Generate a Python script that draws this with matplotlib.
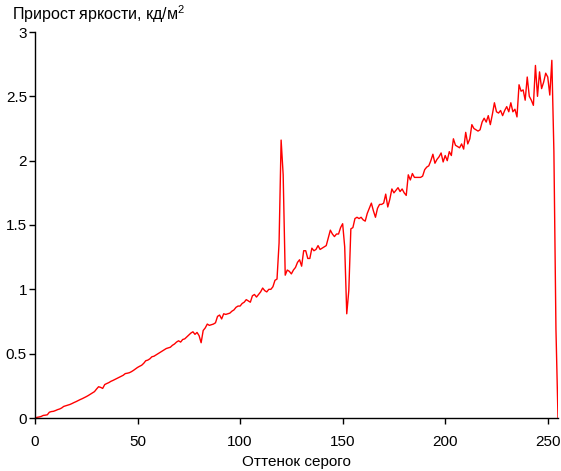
import matplotlib
matplotlib.use("Agg")

import matplotlib.pyplot as plt
import numpy as np

# brightness increment per gray level
gray_levels = np.arange(256)
increments = [
    0.000, 0.005, 0.008, 0.012, 0.020, 0.022, 0.025, 0.045, 0.050, 0.052,
    0.058, 0.065, 0.070, 0.078, 0.090, 0.095, 0.100, 0.105, 0.112, 0.120,
    0.127, 0.135, 0.143, 0.150, 0.158, 0.166, 0.175, 0.185, 0.195, 0.205,
    0.225, 0.243, 0.238, 0.230, 0.260, 0.268, 0.275, 0.285, 0.292, 0.300,
    0.308, 0.316, 0.324, 0.332, 0.345, 0.348, 0.352, 0.360, 0.370, 0.382,
    0.393, 0.402, 0.410, 0.425, 0.445, 0.450, 0.460, 0.476, 0.480, 0.490,
    0.500, 0.510, 0.520, 0.530, 0.540, 0.545, 0.550, 0.565, 0.575, 0.590,
    0.600, 0.590, 0.610, 0.615, 0.630, 0.645, 0.660, 0.670, 0.650, 0.665,
    0.640, 0.585, 0.680, 0.700, 0.730, 0.720, 0.725, 0.730, 0.740, 0.790,
    0.800, 0.770, 0.810, 0.805, 0.810, 0.815, 0.830, 0.840, 0.860, 0.870,
    0.870, 0.890, 0.900, 0.920, 0.910, 0.900, 0.950, 0.960, 0.940, 0.960,
    0.980, 1.010, 0.990, 0.980, 1.000, 1.000, 1.020, 1.070, 1.080, 1.360,
    2.160, 1.890, 1.110, 1.150, 1.140, 1.120, 1.150, 1.170, 1.210, 1.230,
    1.180, 1.300, 1.300, 1.240, 1.240, 1.320, 1.300, 1.310, 1.340, 1.310,
    1.320, 1.330, 1.340, 1.400, 1.460, 1.430, 1.410, 1.430, 1.430, 1.480,
    1.510, 1.330, 0.810, 0.990, 1.470, 1.480, 1.550, 1.560, 1.550, 1.560,
    1.540, 1.530, 1.590, 1.630, 1.670, 1.610, 1.560, 1.630, 1.660, 1.660,
    1.670, 1.740, 1.640, 1.700, 1.780, 1.750, 1.770, 1.790, 1.760, 1.780,
    1.750, 1.730, 1.890, 1.850, 1.900, 1.870, 1.870, 1.870, 1.870, 1.880,
    1.930, 1.950, 1.960, 2.000, 2.050, 1.980, 2.010, 2.030, 2.060, 1.990,
    2.040, 2.000, 2.070, 2.040, 2.170, 2.120, 2.110, 2.100, 2.130, 2.090,
    2.220, 2.130, 2.170, 2.280, 2.250, 2.240, 2.230, 2.240, 2.300, 2.330,
    2.300, 2.350, 2.280, 2.360, 2.450, 2.380, 2.370, 2.390, 2.350, 2.390,
    2.420, 2.380, 2.450, 2.380, 2.400, 2.340, 2.590, 2.540, 2.550, 2.470,
    2.650, 2.500, 2.470, 2.430, 2.740, 2.500, 2.690, 2.560, 2.610, 2.680,
    2.650, 2.510, 2.780, 2.070, 0.690, 0.000,
]

x_ticks = [0, 50, 100, 150, 200, 250]
y_ticks = [0, 0.5, 1, 1.5, 2, 2.5, 3]
y_tick_labels = ["0", "0.5", "1", "1.5", "2", "2.5", "3"]

plt.rcParams["font.family"] = ["Liberation Sans", "DejaVu Sans"]
plt.rcParams["font.size"] = 11
# superscript in the title drawn with the same face
plt.rcParams["mathtext.fontset"] = "custom"
plt.rcParams["mathtext.rm"] = "Liberation Sans"

fig = plt.figure(figsize=(5.61, 4.71), dpi=100)
ax = fig.add_axes([35 / 561, 53 / 471, 523 / 561, 386 / 471])

ax.plot(gray_levels, increments, color="#ff0000", linewidth=1.0)

ax.set_xlim(0, 255)
ax.set_ylim(0, 3)
ax.set_xticks(x_ticks)
ax.set_yticks(y_ticks)
ax.set_yticklabels(y_tick_labels)

for side in ("top", "right"):
    ax.spines[side].set_visible(False)
for side in ("left", "bottom"):
    ax.spines[side].set_linewidth(1.0)
    ax.spines[side].set_color("black")

ax.tick_params(direction="out", length=4.3, width=1.0, colors="black")
ax.tick_params(axis="x", pad=8)
ax.tick_params(axis="y", pad=1.5)
ax.set_xlabel("Оттенок серого", labelpad=4)

fig.text(12 / 561, 1 - 20 / 471, r"Прирост яркости, кд/м$^\mathrm{2}$", ha="left",
         va="baseline", fontsize=11.5)

fig.savefig("out.png", dpi=100)
